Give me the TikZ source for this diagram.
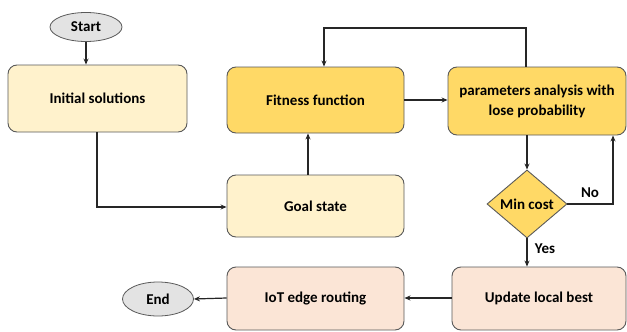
\documentclass[tikz,border=0pt]{standalone}
\usepackage{fontspec}
\setmainfont{Carlito}
\usetikzlibrary{shapes.geometric,arrows.meta}
\definecolor{cream}{HTML}{FFF2CC}
\definecolor{gold}{HTML}{FFD966}
\definecolor{peach}{HTML}{FBE5D6}
\definecolor{lgray}{HTML}{E3E3E3}
\definecolor{edge}{HTML}{595959}
\tikzset{
  txt/.style={font=\bfseries\fontsize{15}{20}\selectfont},
  box/.style={txt, draw=edge, line width=0.9pt, rounded corners=9pt, align=center, inner sep=0pt},
  term/.style={txt, ellipse, draw=edge, line width=0.8pt, fill=lgray, inner sep=0pt},
  dec/.style={txt, diamond, draw=edge, line width=0.9pt, fill=gold, inner sep=0pt, aspect=1.18},
  conn/.style={draw=black!85, line width=1.2pt, -{Stealth[length=6pt,width=5pt]}},
  lbl/.style={txt}
}
\begin{document}
\begin{tikzpicture}[x=1pt,y=-1pt]
\useasboundingbox (0,0) rectangle (627,332);
\node[term, minimum width=72pt, minimum height=29pt] (start) at (86,27) {Start};
\node[box, fill=cream, minimum width=179pt, minimum height=67pt] (init) at (97.5,98.5) {Initial solutions};
\node[box, fill=gold, minimum width=177pt, minimum height=66pt] (fit) at (315.5,100) {Fitness function};
\node[box, fill=gold, minimum width=178pt, minimum height=68pt] (par) at (537,101) {parameters analysis with\\lose probability};
\node[box, fill=cream, minimum width=177pt, minimum height=62pt] (goal) at (315.5,206) {Goal state};
\node[dec, minimum width=80pt, minimum height=68pt] (dia) at (527,204) {Min cost};
\node[box, fill=peach, minimum width=177pt, minimum height=63pt] (iot) at (315.5,298.5) {IoT edge routing};
\node[box, fill=peach, minimum width=174pt, minimum height=63pt] (upd) at (539,298.5) {Update local best};
\node[term, minimum width=71pt, minimum height=34pt] (end) at (158,299) {End};
\coordinate (loopR) at (526,28);
\coordinate (loopL) at (324,28);
\coordinate (noC) at (613,204);
\coordinate (igC) at (97,207);
\draw[conn] (start.south) -- (init.north -| start.south);
\draw[conn] (init.south -| igC) -- (igC) -- (igC -| goal.west);
\draw[conn] (goal.north -| 308,0) -- (fit.south -| 308,0);
\draw[conn] (fit.east |- 0,100) -- (par.west |- 0,100);
\draw[conn] (par.north -| loopR) -- (loopR) -- (loopL) -- (fit.north -| loopL);
\draw[conn] (par.south -| dia.north) -- (dia.north);
\draw[conn] (dia.east) -- (noC) -- (par.south -| noC);
\draw[conn] (dia.south) -- (upd.north -| dia.south);
\draw[conn] (upd.west |- 0,298) -- (iot.east |- 0,298);
\draw[conn] (iot.west |- 0,298) -- (end.east);
\node[lbl] (no) at (590,193) {No};
\node[lbl] (yes) at (545,249) {Yes};
\end{tikzpicture}
\end{document}
